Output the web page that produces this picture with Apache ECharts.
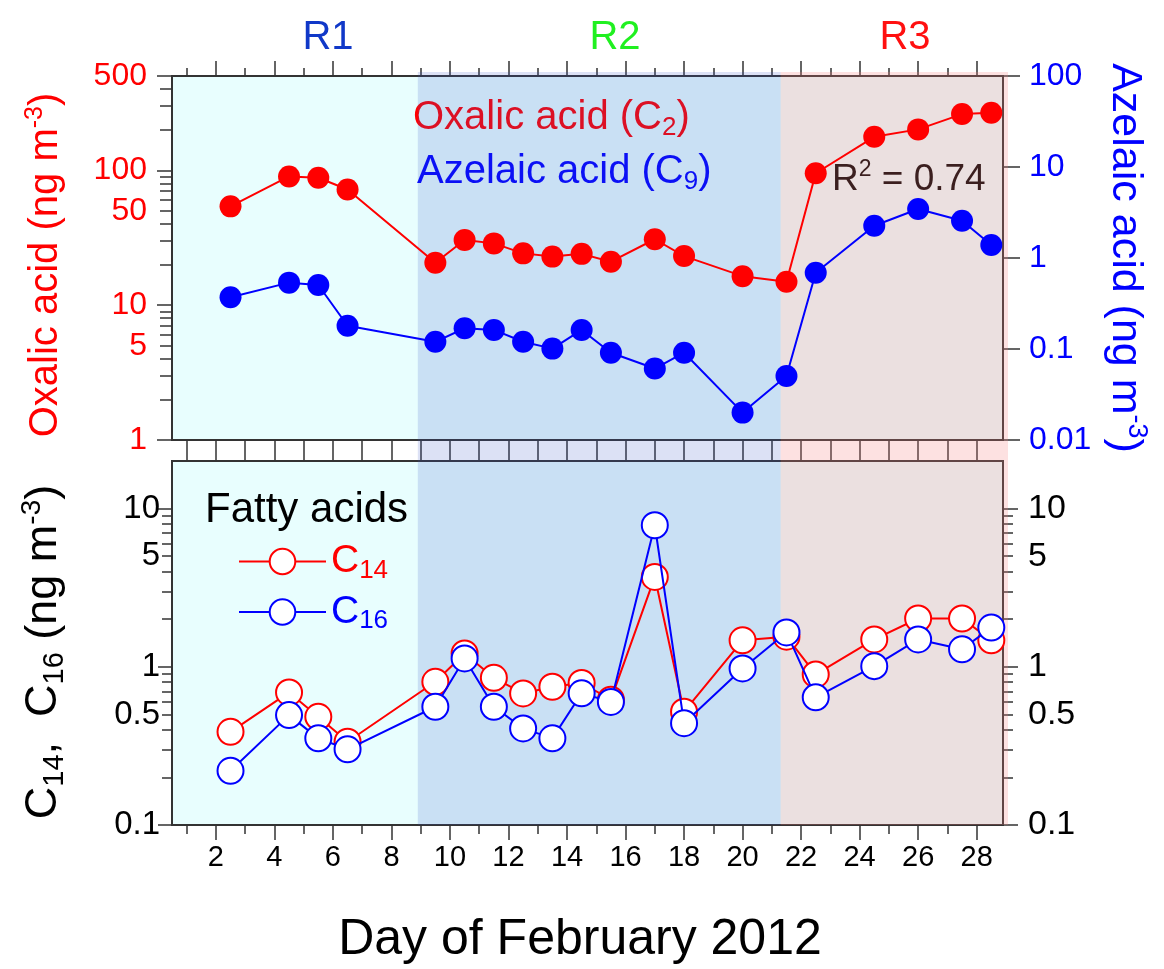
<!DOCTYPE html>
<html>
<head>
<meta charset="utf-8">
<script src="https://cdn.jsdelivr.net/npm/echarts@6/dist/echarts.min.js"></script>
<style>html,body{margin:0;padding:0;background:#fff}#c{width:1164px;height:969px}</style>
</head>
<body>
<div id="c"></div>
<script>
// ---- data ----
const days = [2.5, 4.5, 5.5, 6.5, 9.5, 10.5, 11.5, 12.5, 13.5, 14.5, 15.5, 17, 18, 20, 21.5, 22.5, 24.5, 26, 27.5, 28.5];
const oxalic = [54, 90, 88, 72, 20.6, 30.4, 28.7, 24.2, 22.9, 24.0, 21.0, 30.8, 23.1, 16.4, 14.9, 95, 177, 201, 261, 267];
const azelaic = [0.37, 0.536, 0.505, 0.180, 0.120, 0.169, 0.162, 0.120, 0.101, 0.162, 0.091, 0.061, 0.091, 0.020, 0.0505, 0.69, 2.26, 3.45, 2.57, 1.39];
const c14 = [0.388, 0.689, 0.483, 0.336, 0.804, 1.215, 0.852, 0.679, 0.748, 0.79, 0.62, 3.70, 0.52, 1.47, 1.55, 0.895, 1.49, 2.02, 2.02, 1.47];
const c16 = [0.220, 0.495, 0.353, 0.301, 0.559, 1.13, 0.559, 0.408, 0.353, 0.68, 0.60, 7.85, 0.44, 0.977, 1.65, 0.641, 1.01, 1.49, 1.29, 1.77];
const regionBounds = [0.5, 8.9, 21.3, 29.07];
const regionNames = ['R1', 'R2', 'R3'];
const xTickDays = [1,2,3,4,5,6,7,8,9,10,11,12,13,14,15,16,17,18,19,20,21,22,23,24,25,26,27,28];
const topLeftTicks = [1,2,3,4,5,6,7,8,9,10,20,30,40,50,60,70,80,90,100,200,300,400,500];
const topLeftMajor = [1,10,100,500];
const topLeftLabels = [1,5,10,50,100,500];
const topRightTicks = [0.01,0.1,1,10,100];
const botTicks = [0.1,0.2,0.3,0.4,0.5,0.6,0.7,0.8,0.9,1,2,3,4,5,6,7,8,9,10];
const botMajor = [0.1,1,10];
const botLabels = [0.1,0.5,1,5,10];

const FONT = 'Liberation Sans, Arial, sans-serif';
const L = v => Math.log10(v);
const fmt = v => String(Number(Math.pow(10, v).toPrecision(2)));
const pairs = arr => days.map((d, i) => [d, L(arr[i])]);
const odd = xTickDays.filter(d => d % 2 === 1);
const even = xTickDays.filter(d => d % 2 === 0);

const XMIN = 0.5, XMAX = 28.9;
const G0 = {left: 172, top: 76, width: 831, height: 364};
const G1 = {left: 172, top: 461, width: 831, height: 364};
const G2 = {left: 172, top: 72, width: 836, height: 753};
const frame = '#333';

function xAx(grid, pos, ticks, len, extra) {
  return Object.assign({
    type: 'value', gridIndex: grid, position: pos, min: XMIN, max: XMAX,
    axisLine: {show: true, onZero: false, lineStyle: {color: frame, width: 2}},
    axisTick: {show: true, inside: false, length: len, customValues: ticks, lineStyle: {color: frame, width: 1.5}},
    axisLabel: {show: false}, splitLine: {show: false}
  }, extra || {});
}
function yAx(grid, pos, min, max, ticks, len, labels, color, fs, margin, showLine) {
  return {
    type: 'value', gridIndex: grid, position: pos, min: min, max: max,
    axisLine: {show: showLine !== false, onZero: false, lineStyle: {color: frame, width: 2}},
    axisTick: {show: true, inside: false, length: len, customValues: ticks.map(L), lineStyle: {color: frame, width: 1.5}},
    axisLabel: labels ? {show: true, customValues: labels.map(L), formatter: fmt, color: color, fontSize: fs, fontFamily: FONT, margin: margin} : {show: false},
    splitLine: {show: false}
  };
}

const chart = echarts.init(document.getElementById('c'), null, {renderer: 'canvas'});

const richMain = (fs, color) => ({
  a: {fontSize: fs, fontFamily: FONT, fill: color, lineHeight: fs + 6},
  b: {fontSize: Math.round(fs * 0.65), fontFamily: FONT, fill: color, verticalAlign: 'bottom'},
  p: {fontSize: Math.round(fs * 0.62), fontFamily: FONT, fill: color, verticalAlign: 'top'}
});
function txt(text, x, y, fs, color, align, rot) {
  return {
    type: 'text', x: x, y: y, rotation: rot || 0, z: 0,
    style: {text: text, rich: richMain(fs, color), fill: color, fontSize: fs, fontFamily: FONT,
            align: align || 'center', verticalAlign: 'middle'}
  };
}

const option = {
  backgroundColor: '#fff',
  animation: false,
  grid: [
    Object.assign({show: true, backgroundColor: '#e8fefe', borderColor: frame, borderWidth: 2}, G0),
    Object.assign({show: true, backgroundColor: '#e8fefe', borderColor: frame, borderWidth: 2}, G1),
    Object.assign({show: false}, G2)
  ],
  xAxis: [
    xAx(0, 'bottom', xTickDays, 21),
    xAx(0, 'top', odd, 8),
    xAx(0, 'top', even, 15, {axisLine: {show: false, onZero: false}}),
    xAx(1, 'bottom', odd, 9),
    xAx(1, 'bottom', even, 15, {axisLine: {show: false, onZero: false},
      axisLabel: {show: true, customValues: even, color: '#000', fontSize: 29, fontFamily: FONT, margin: 18}}),
    {type: 'value', gridIndex: 2, min: XMIN, max: 29.07, show: false, axisLine: {onZero: false}}
  ],
  yAxis: [
    yAx(0, 'left', 0, L(500), topLeftTicks, 12, topLeftLabels, '#ff0000', 32, 25),
    yAx(0, 'left', 0, L(500), topLeftMajor, 15, null, null, 0, 0, false),
    yAx(0, 'right', -2, 2, topRightTicks, 17, topRightTicks, '#0000ff', 32, 26),
    yAx(1, 'left', -1, L(20), botTicks, 10, botLabels, '#000', 33, 12),
    yAx(1, 'left', -1, L(20), botMajor, 14, null, null, 0, 0, false),
    yAx(1, 'right', -1, L(20), botTicks, 10, botLabels, '#000', 34, 25),
    yAx(1, 'right', -1, L(20), botMajor, 15, null, null, 0, 0, false),
    {type: 'value', gridIndex: 2, min: 0, max: 1, show: false, axisLine: {onZero: false}}
  ],
  legend: {
    orient: 'vertical', left: 233, top: 537, itemWidth: 87, itemHeight: 32, itemGap: 9,
    data: ['C14', 'C16'],
    formatter: n => n === 'C14' ? '{cr|C}{sr|14}' : '{cb|C}{sb|16}',
    textStyle: {
      rich: {
        cr: {color: '#ff0000', fontSize: 39, fontFamily: FONT, lineHeight: 44},
        sr: {color: '#ff0000', fontSize: 26, fontFamily: FONT, verticalAlign: 'bottom'},
        cb: {color: '#0000ff', fontSize: 39, fontFamily: FONT, lineHeight: 44},
        sb: {color: '#0000ff', fontSize: 26, fontFamily: FONT, verticalAlign: 'bottom'}
      }
    }
  },
  series: [
    {name: 'Oxalic', type: 'line', xAxisIndex: 0, yAxisIndex: 0, data: pairs(oxalic),
     symbol: 'circle', symbolSize: 22, itemStyle: {color: '#ff0000'}, lineStyle: {color: '#ff0000', width: 2}, z: 2},
    {name: 'Azelaic', type: 'line', xAxisIndex: 0, yAxisIndex: 2, data: pairs(azelaic),
     symbol: 'circle', symbolSize: 22, itemStyle: {color: '#0000ff'}, lineStyle: {color: '#0000ff', width: 2}, z: 2},
    {name: 'C14', type: 'line', xAxisIndex: 3, yAxisIndex: 3, data: pairs(c14),
     symbol: 'circle', symbolSize: 26, itemStyle: {color: '#ffffff', borderColor: '#ff0000', borderWidth: 2},
     lineStyle: {color: '#ff0000', width: 2}, z: 2},
    {name: 'C16', type: 'line', xAxisIndex: 3, yAxisIndex: 3, data: pairs(c16),
     symbol: 'circle', symbolSize: 26, itemStyle: {color: '#ffffff', borderColor: '#0000ff', borderWidth: 2},
     lineStyle: {color: '#0000ff', width: 2}, z: 3},
    {name: 'regions', type: 'line', xAxisIndex: 5, yAxisIndex: 7, data: [], z: 6, silent: true,
     markArea: {silent: true, data: [
       [{xAxis: regionBounds[1], itemStyle: {color: 'rgba(60,90,200,0.18)'}}, {xAxis: regionBounds[2]}],
       [{xAxis: regionBounds[2], itemStyle: {color: 'rgba(245,130,130,0.24)'}}, {xAxis: regionBounds[3]}]
     ]}}
  ],
  graphic: [
    txt('{a|' + regionNames[0] + '}', 328, 38, 40, '#1038c8'),
    txt('{a|' + regionNames[1] + '}', 615, 38, 40, '#20f020'),
    txt('{a|' + regionNames[2] + '}', 905, 38, 40, '#ff1010'),
    txt('{a|Oxalic acid (C}{b|2}{a|)}', 413, 118, 40, '#ff0000', 'left'),
    txt('{a|Azelaic acid (C}{b|9}{a|)}', 417, 172, 40, '#0000ff', 'left'),
    txt('{a|R}{p|2}{a| = 0.74}', 832, 180, 37, '#000', 'left'),
    txt('{a|Fatty acids}', 205, 510, 42, '#000', 'left'),
    txt('{a|Oxalic acid (ng m}{p|-3}{a|)}', 46, 265, 40, '#ff0000', 'center', Math.PI / 2),
    txt('{a|Azelaic acid (ng m}{p|-3}{a|)}', 1125, 258, 43, '#0000ff', 'center', -Math.PI / 2),
    txt('{a|C}{b|14}{a|,  C}{b|16}{a| (ng m}{p|-3}{a|)}', 44, 652, 45, '#000', 'center', Math.PI / 2),
    txt('{a|Day of February 2012}', 580, 940, 50, '#000')
  ]
};
chart.setOption(option);
</script>
</body>
</html>
